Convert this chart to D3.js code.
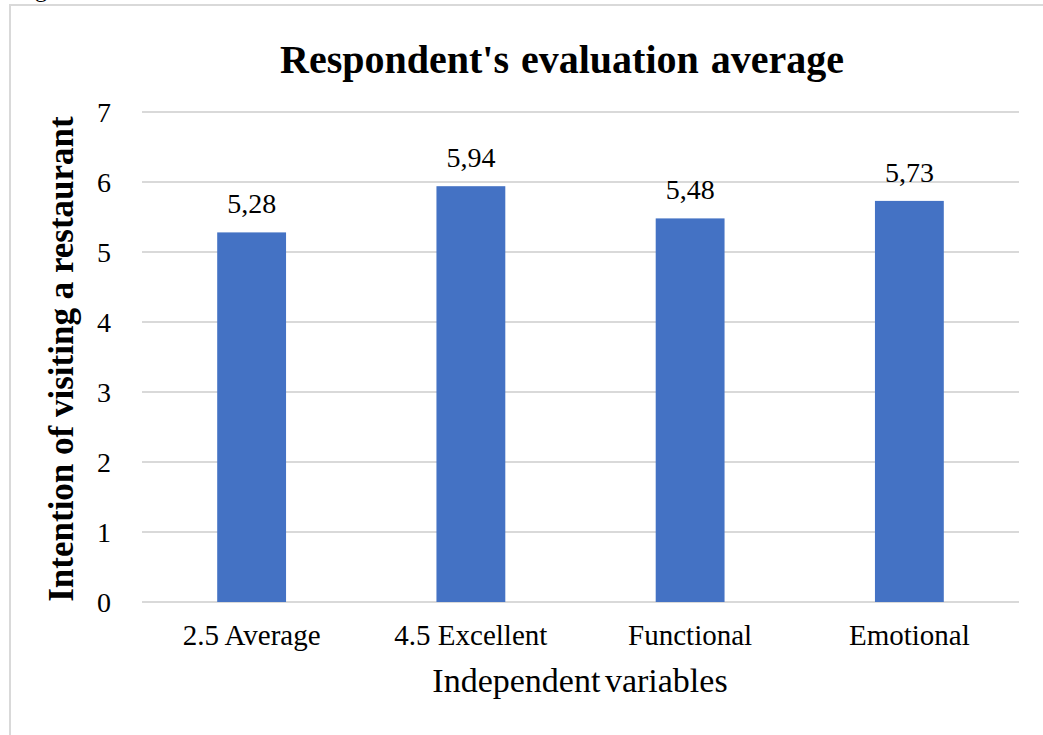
<!DOCTYPE html>
<html>
<head>
<meta charset="utf-8">
<script src="https://cdn.jsdelivr.net/npm/d3@7"></script>
<style>
  html, body { margin: 0; padding: 0; background: #fff; }
  svg { display: block; }
  text { font-family: "Liberation Serif", "Times New Roman", "DejaVu Serif", serif; fill: #000; }
</style>
</head>
<body>
<svg id="chart" width="1043" height="735"></svg>
<script>
// Chart data
const categories = ["2.5 Average", "4.5 Excellent", "Functional", "Emotional"];
const values = [5.28, 5.94, 5.48, 5.73];
const valueLabels = ["5,28", "5,94", "5,48", "5,73"];
const yTicks = [0, 1, 2, 3, 4, 5, 6, 7];

const svg = d3.select("#chart");

// caption line above the chart frame (only its descender shows)
svg.append("text")
  .attr("x", 15).attr("y", -3)
  .attr("font-size", 24)
  .text("Figure");

// chart frame
svg.append("rect")
  .attr("x", 10).attr("y", 5)
  .attr("width", 1100).attr("height", 800)
  .attr("fill", "#fff")
  .attr("stroke", "#d9d9d9")
  .attr("stroke-width", 2);

const plot = { left: 142, right: 1019, top: 112, bottom: 602 };

const x = d3.scaleBand()
  .domain(categories)
  .range([plot.left, plot.right])
  .paddingInner(0).paddingOuter(0);

const y = d3.scaleLinear()
  .domain([0, 7])
  .range([plot.bottom, plot.top]);

// gridlines
svg.append("g")
  .selectAll("line")
  .data(yTicks)
  .join("line")
  .attr("x1", plot.left).attr("x2", plot.right)
  .attr("y1", d => y(d)).attr("y2", d => y(d))
  .attr("stroke", "#d9d9d9")
  .attr("stroke-width", 2);

// y tick labels
svg.append("g")
  .selectAll("text")
  .data(yTicks)
  .join("text")
  .attr("x", 111)
  .attr("y", d => y(d))
  .attr("dy", "0.34em")
  .attr("text-anchor", "end")
  .attr("font-size", 28)
  .text(d => d);

// bars
const barW = x.bandwidth() * 0.314;
svg.append("g")
  .selectAll("rect")
  .data(values)
  .join("rect")
  .attr("x", (d, i) => x(categories[i]) + (x.bandwidth() - barW) / 2)
  .attr("y", d => y(d))
  .attr("width", barW)
  .attr("height", d => y(0) - y(d))
  .attr("fill", "#4472c4");

// value labels
svg.append("g")
  .selectAll("text")
  .data(values)
  .join("text")
  .attr("x", (d, i) => x(categories[i]) + x.bandwidth() / 2)
  .attr("y", d => y(d) - 19)
  .attr("text-anchor", "middle")
  .attr("font-size", 28)
  .text((d, i) => valueLabels[i]);

// category labels
svg.append("g")
  .selectAll("text")
  .data(categories)
  .join("text")
  .attr("x", d => x(d) + x.bandwidth() / 2)
  .attr("y", 645)
  .attr("text-anchor", "middle")
  .attr("font-size", 29)
  .text(d => d);

// axis titles
svg.append("text")
  .attr("x", 580).attr("y", 692)
  .attr("text-anchor", "middle")
  .attr("font-size", 34)
  .attr("word-spacing", -4)
  .text("Independent variables");

svg.append("text")
  .attr("transform", "translate(73,359) rotate(-90)")
  .attr("text-anchor", "middle")
  .attr("font-size", 35)
  .attr("font-weight", "bold")
  .text("Intention of visiting a restaurant");

// chart title
svg.append("text")
  .attr("x", 562).attr("y", 73)
  .attr("text-anchor", "middle")
  .attr("font-size", 40)
  .attr("font-weight", "bold")
  .attr("word-spacing", 2)
  .text("Respondent's evaluation average");
</script>
</body>
</html>
